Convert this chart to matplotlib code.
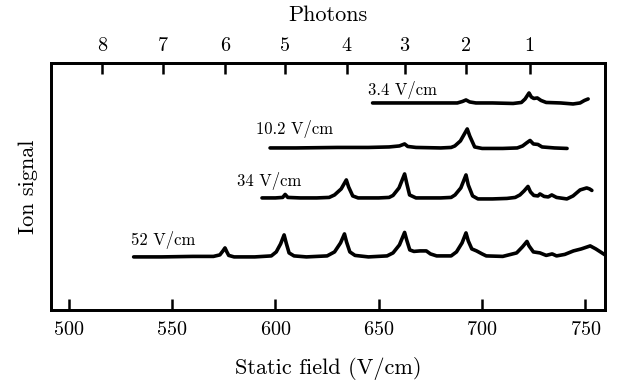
import matplotlib
matplotlib.use("Agg")
import matplotlib.pyplot as plt

plt.rcParams['font.family'] = ['cmr10', 'DejaVu Serif']
plt.rcParams['axes.formatter.use_mathtext'] = True

# traces: static field (V/cm) vs ion signal above each baseline (arb. units)
labels = ['3.4 V/cm', '10.2 V/cm', '34 V/cm', '52 V/cm']
baselines = [207, 162, 112, 53]

field_34 = [647, 660, 675, 688, 690.5, 692.2, 694, 697, 705, 715, 719, 720.8, 722.7,
            723.8, 725, 726.7, 728.5, 731, 738, 744, 747.4, 749.5, 751.3]
sig_34 = [0, 0, 0, 0, 1.5, 3, 1, 0, 0, -0.5, 0.5, 4, 10,
          6, 4.5, 5, 2.5, 0.5, 0, -1, 0, 2.5, 4]

field_102 = [597.4, 610, 630, 645, 655, 660, 662.5, 664, 668, 680, 685, 686.8, 689.5,
             692.8, 694, 696.4, 700, 710, 717, 719.6, 721.5, 723.2, 724.8, 727, 729,
             735, 741.1]
sig_102 = [0, 0, 0.5, 0.5, 1, 2, 4, 1.5, 0.5, 0, 0.5, 2, 7,
           19, 12, 1, -0.5, -0.5, 0, 2, 5, 7.5, 4, 3.5, 1,
           0, -0.5]

field_340 = [593.5, 600, 603.5, 604.7, 606, 612, 620, 626, 628.6, 631.8, 634.3, 635.4,
             637.4, 640, 650, 655, 656.9, 659.8, 662.5, 663.6, 664.9, 668, 680, 685,
             686.9, 689.7, 692.2, 693.3, 695.4, 698, 705, 712, 716, 718.3, 720.3,
             722.2, 723.4, 725, 727, 728, 730, 732, 733.7, 736, 741, 744, 747.4,
             750.6, 752, 753.1]
sig_340 = [0, 0, 0.5, 3.5, 0.5, 0, 0, 0.5, 3, 9, 18, 11,
           2, 0, 0, 0.5, 2.5, 10, 24, 14, 3, 0, 0, 0.5,
           3, 10, 23, 13, 2, -1, -1, -0.5, 0.5, 3, 7,
           11.5, 6, 2.5, 2, 4, 1.5, 1, 3, 0.5, -1, 2, 8,
           10, 9, 7.5]

field_520 = [531.4, 545, 560, 570, 573.1, 574.6, 575.6, 576.5, 577.4, 580, 590, 598,
             600.4, 602.5, 604.2, 605.2, 606.6, 609, 615, 625, 628.6, 631.5, 633.4,
             634.4, 636, 638.5, 645, 654, 656.9, 660, 662.5, 663.5, 665, 667, 670,
             673, 675, 678, 685, 687.6, 690.3, 692.2, 693.3, 695, 697.3, 700, 702,
             710, 716.7, 719.5, 721.7, 722.7, 724.8, 728, 731, 733.9, 736, 740,
             744.2, 748, 752.3, 755, 759.5]
sig_520 = [0, 0, 0.5, 0.5, 2, 6, 9, 5, 1.5, 0, 0, 1,
           5, 13, 22, 14, 4, 1, 0, 1, 5, 14, 23,
           15, 5, 1.5, 0, 1, 4, 12, 24.5, 17, 7, 5.5, 6,
           6, 3, 1, 1, 5, 14, 24, 16, 8, 6, 3, 1,
           0.5, 4, 10, 15.5, 11, 5, 4, 1.5, 3, 1, 2.5,
           6, 8, 11, 8, 2]

fields = [field_34, field_102, field_340, field_520]
signals = [sig_34, sig_102, sig_340, sig_520]

# n-photon resonance positions on the field axis
photon_field = [516, 545.7, 575.7, 604.8, 634.4, 662.5, 692, 723]
photon_labels = ['8', '7', '6', '5', '4', '3', '2', '1']

label_pos = [(644.6, 220), (590.6, 181), (581.6, 129), (530.2, 70)]

fig = plt.figure(figsize=(6.34, 3.84), dpi=100)
ax = fig.add_axes([0.0804, 0.193, 0.874, 0.643])

for f, s, b, lab, (lx, ly) in zip(fields, signals, baselines, labels, label_pos):
    ax.plot(f, [b + v for v in s], color='black', lw=2.6,
            solid_joinstyle='round', solid_capstyle='round')
    ax.text(lx, ly, lab, fontsize=12, ha='left', va='center')

ax.set_xlim(491.4, 759.5)
ax.set_ylim(0, 247)
ax.set_xticks([500, 550, 600, 650, 700, 750])
ax.set_yticks([])
ax.tick_params(axis='x', direction='in', length=8, width=1.8, labelsize=14.5, pad=8)
ax.set_xlabel('Static field (V/cm)', fontsize=16, labelpad=13)
ax.set_ylabel('Ion signal', fontsize=16, labelpad=9)
for sp in ax.spines.values():
    sp.set_linewidth(2)

top = ax.twiny()
top.set_xlim(ax.get_xlim())
top.set_xticks(photon_field)
top.set_xticklabels(photon_labels)
top.tick_params(axis='x', direction='in', length=8, width=1.8, labelsize=14.5, pad=6)
top.set_xlabel('Photons', fontsize=16, labelpad=11)
for sp in top.spines.values():
    sp.set_linewidth(2)

fig.savefig('out.png', dpi=100)
